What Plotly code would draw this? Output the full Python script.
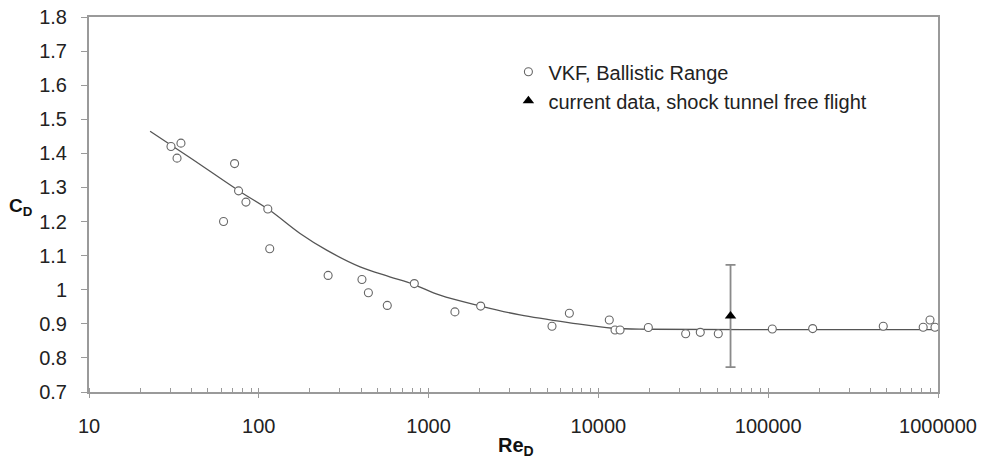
import plotly.graph_objects as go

# VKF ballistic range data (Re_D, C_D)
vkf_re = [30.4, 33, 34.8, 62, 72, 76, 84, 113, 116, 256, 405, 442, 571, 824,
          1429, 2026, 5330, 6745, 11590, 12530, 13410, 19680, 32660, 39810,
          50820, 105700, 182800, 476000, 818000, 897000, 960000]
vkf_cd = [1.42, 1.386, 1.43, 1.20, 1.37, 1.29, 1.257, 1.237, 1.12, 1.042,
          1.030, 0.991, 0.954, 1.018, 0.935, 0.952, 0.893, 0.931, 0.911,
          0.882, 0.882, 0.889, 0.871, 0.875, 0.871, 0.885, 0.886, 0.893,
          0.890, 0.911, 0.890]

# current data, shock tunnel free flight
cur_re = [60000]
cur_cd = [0.923]
cur_err = [0.15]

# fitted curve
fit_re = [22.9, 40, 77, 116, 175, 251, 395, 590, 813, 1167, 2026, 3450, 6800,
          12200, 20000, 100000, 1000000]
fit_cd = [1.465, 1.385, 1.289, 1.233, 1.165, 1.116, 1.067, 1.038, 1.016, 0.984,
          0.952, 0.926, 0.903, 0.887, 0.884, 0.883, 0.883]

x_tickvals = [10, 100, 1000, 10000, 100000, 1000000]
x_ticktext = ["10", "100", "1000", "10000", "100000", "1000000"]

FONT = "Liberation Sans, Arial, sans-serif"
AX = "#9a9a9a"

fig = go.Figure()
fig.add_trace(go.Scatter(x=fit_re, y=fit_cd, mode="lines",
                         line=dict(color="#555555", width=1.3, shape="spline", smoothing=1.0),
                         showlegend=False, hoverinfo="skip"))
fig.add_trace(go.Scatter(x=vkf_re, y=vkf_cd, mode="markers", name="VKF, Ballistic Range",
                         marker=dict(symbol="circle", size=8, color="white",
                                     line=dict(color="#666666", width=1.1))))
fig.add_trace(go.Scatter(x=cur_re, y=cur_cd, mode="markers",
                         name="current data, shock tunnel free flight",
                         marker=dict(symbol="triangle-up", size=10, color="black"),
                         error_y=dict(type="data", array=cur_err, visible=True,
                                      color="#8a8a8a", thickness=1.8, width=5)))

fig.update_layout(
    width=981, height=459,
    margin=dict(l=89, r=43, t=17, b=67, autoexpand=False),
    paper_bgcolor="white", plot_bgcolor="white",
    font=dict(family=FONT, size=20, color="#222222"),
    legend=dict(x=0.494, y=0.906, xanchor="left", yanchor="top",
                bgcolor="rgba(0,0,0,0)", font=dict(size=20, color="#222222"),
                itemsizing="trace", tracegroupgap=0),
    showlegend=True,
)
fig.update_xaxes(type="log", range=[1, 6], showgrid=False, zeroline=False, automargin=False,
                 showline=True, linecolor=AX, linewidth=2, mirror=True,
                 ticks="outside", ticklen=4, tickcolor=AX, tickwidth=1,
                 tickvals=x_tickvals, ticktext=x_ticktext,
                 ticklabelstandoff=11,
                 minor=dict(ticks="inside", ticklen=4, tickcolor=AX, dtick="D1", showgrid=False))
fig.update_yaxes(range=[0.7, 1.8], dtick=0.1, tick0=0.7, showgrid=False, zeroline=False,
                 automargin=False,
                 showline=True, linecolor=AX, linewidth=2, mirror=True,
                 ticks="outside", ticklen=6, tickcolor=AX, tickwidth=1,
                 ticklabelstandoff=10)

fig.add_annotation(text="<b>C<sub>D</sub></b>", xref="paper", yref="paper",
                   x=-0.08, y=0.494, showarrow=False, font=dict(size=19, color="#111111"),
                   xanchor="center", yanchor="middle")
fig.add_annotation(text="<b>Re<sub>D</sub></b>", xref="paper", yref="paper",
                   x=0.503, y=-0.145, showarrow=False, font=dict(size=20, color="#111111"),
                   xanchor="center", yanchor="middle")

fig.write_html("out.html")
